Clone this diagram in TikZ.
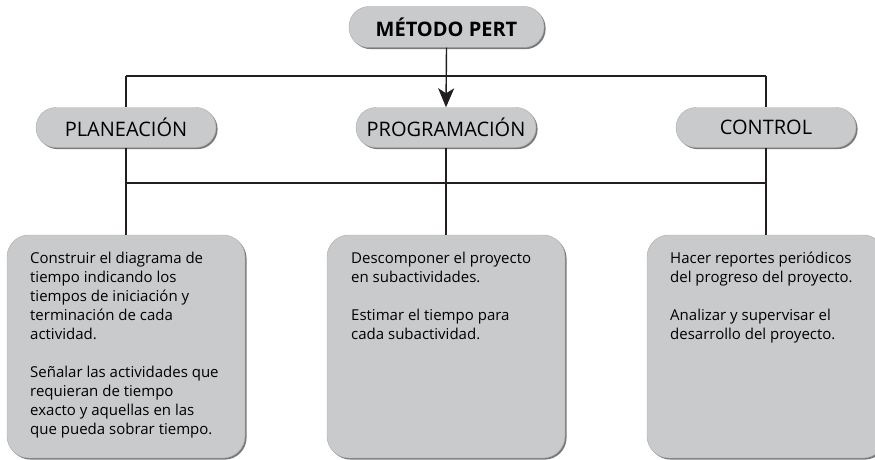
\documentclass[tikz,border=0pt]{standalone}
\usepackage{fontspec}
\setmainfont{Open Sans}
\usetikzlibrary{shadows,arrows.meta}
\definecolor{boxgray}{RGB}{200,202,204}
\definecolor{edgegray}{RGB}{170,172,174}
\definecolor{linecol}{RGB}{35,31,32}
\begin{document}
\begin{tikzpicture}[x=1pt,y=-1pt,
  shadowed/.style={drop shadow={shadow xshift=1.6pt,shadow yshift=-1.6pt,fill=black!70,opacity=0.75}},
  pill/.style={shadowed,draw=edgegray,line width=0.4pt,fill=boxgray,rounded corners=20pt,
    minimum width=180pt,minimum height=40pt,inner sep=0pt,
    font=\fontsize{20}{23}\selectfont},
  titlepill/.style={pill,minimum width=195pt,minimum height=41pt,font=\fontsize{20}{23}\selectfont\bfseries},
  bigbox/.style={shadowed,draw=edgegray,line width=0.4pt,fill=boxgray,rounded corners=22pt,
    minimum width=238pt,minimum height=223pt,inner sep=0pt},
  boxtext/.style={anchor=north west,inner sep=0pt,align=left,
    font=\fontsize{15}{19}\selectfont},
  conn/.style={draw=linecol,line width=1.4pt}]
\useasboundingbox (0,0) rectangle (875,460);
\clip (0,0) rectangle (875,460);

\coordinate (h1) at (0,76);
\coordinate (h2) at (0,183);

\node[pill] (plan) at (126,127.5) {PLANEACIÓN};
\node[pill] (prog) at (446,127.5) {PROGRAMACIÓN};
\node[pill] (ctrl) at (766,127.5) {CONTROL};

\draw[conn] (plan.north |- h1) -- (ctrl.north |- h1);
\draw[conn] (plan.north |- h1) -- (plan.north);
\draw[conn] (ctrl.north |- h1) -- (ctrl.north);

\node[titlepill] (title) at (446.5,27) {MÉTODO PERT};

\draw[conn,-{Stealth[length=19pt,width=16pt,inset=5pt]}] (title.south) -- (prog.north);

\node[bigbox] (box1) at (126,346.5) {};
\node[bigbox] (box2) at (446,346.5) {};
\node[bigbox] (box3) at (766,346.5) {};

\draw[conn] (plan.south) -- (plan.south |- h2) -- (ctrl.south |- h2) -- (ctrl.south);
\draw[conn] (prog.south) -- (prog.south |- h2);
\draw[conn] (plan.south |- h2) -- (box1.north);
\draw[conn] (prog.south |- h2) -- (box2.north);
\draw[conn] (ctrl.south |- h2) -- (box3.north);

\node[boxtext] (t1) at (30,252) {Construir el diagrama de\\tiempo indicando los\\tiempos de iniciación y\\terminación de cada\\actividad.\\[19pt]Señalar las actividades que\\requieran de tiempo\\exacto y aquellas en las\\que pueda sobrar tiempo.};
\node[boxtext] (t2) at (351,252) {Descomponer el proyecto\\en subactividades.\\[19pt]Estimar el tiempo para\\cada subactividad.};
\node[boxtext] (t3) at (670,252) {Hacer reportes periódicos\\del progreso del proyecto.\\[19pt]Analizar y supervisar el\\desarrollo del proyecto.};
\end{tikzpicture}
\end{document}
